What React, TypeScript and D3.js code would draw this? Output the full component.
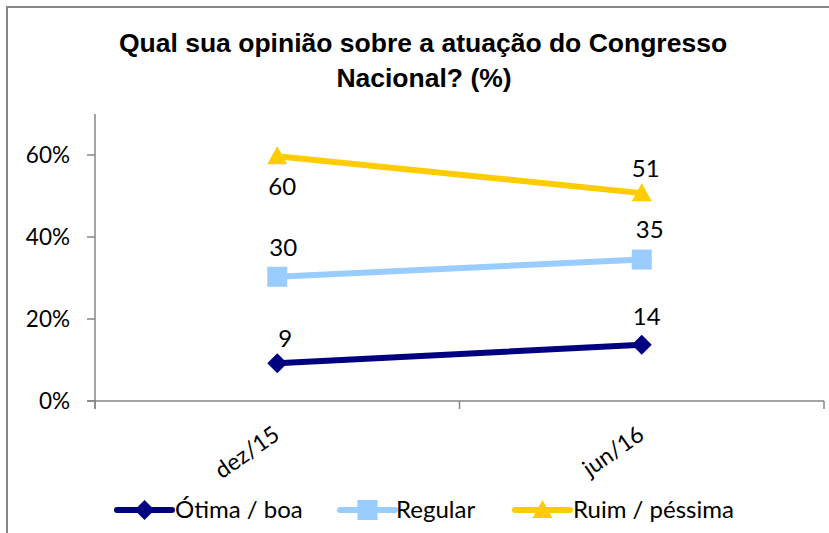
import React, { useEffect, useRef } from "react";
import * as d3 from "d3";

const categories = ["dez/15", "jun/16"];
const seriesNames = ["Ótima / boa", "Regular", "Ruim / péssima"];
const otimaValues = [9.2, 13.7];
const regularValues = [30.3, 34.5];
const ruimValues = [59.7, 50.7];
const yTicks = [0, 20, 40, 60];

const App = () => {
  const ref = useRef<SVGSVGElement>(null);

  useEffect(() => {
    if (!ref.current) return;
    const width = 829;
    const height = 533;
    const svg = d3.select(ref.current);
    svg.selectAll("*").remove();

    const left = 95, right = 824, top = 114, bottom = 401;
    const x = d3.scaleBand().domain(categories).range([left, right]);
    const y = d3.scaleLinear().domain([0, 70]).range([bottom, top]);
    const labelFont = "Lato, sans-serif";

    // chart border
    svg.append("rect")
      .attr("x", 7).attr("y", 7)
      .attr("width", width + 10).attr("height", height + 10)
      .attr("fill", "white").attr("stroke", "#868686").attr("stroke-width", 2);

    // title
    const title = svg.append("text")
      .attr("text-anchor", "middle")
      .attr("font-family", "Liberation Sans")
      .attr("font-weight", "bold").attr("font-size", 26.5).attr("fill", "#000");
    title.append("tspan").attr("x", 423).attr("y", 52).text("Qual sua opinião sobre a atuação do Congresso");
    title.append("tspan").attr("x", 424).attr("y", 87).text("Nacional? (%)");

    // axes
    const axisColor = "#868686";
    svg.append("line").attr("x1", left).attr("x2", left).attr("y1", top).attr("y2", bottom + 8)
      .attr("stroke", axisColor).attr("stroke-width", 1.5);
    svg.append("line").attr("x1", left - 8).attr("x2", right).attr("y1", bottom).attr("y2", bottom)
      .attr("stroke", axisColor).attr("stroke-width", 1.5);
    yTicks.forEach((t) => {
      svg.append("line").attr("x1", left - 8).attr("x2", left).attr("y1", y(t)).attr("y2", y(t))
        .attr("stroke", axisColor).attr("stroke-width", 1.5);
      svg.append("text").attr("x", 70).attr("y", y(t)).attr("dy", "0.35em")
        .attr("text-anchor", "end").style("font-family", labelFont).attr("font-size", 22.5)
        .attr("fill", "#000").text(`${t}%`);
    });
    const catEdges = [left, ...categories.map((c) => (x(c) as number) + x.bandwidth())];
    catEdges.forEach((e) => {
      svg.append("line").attr("x1", e).attr("x2", e).attr("y1", bottom).attr("y2", bottom + 8)
        .attr("stroke", axisColor).attr("stroke-width", 1.5);
    });
    categories.forEach((c) => {
      const cx = (x(c) as number) + x.bandwidth() / 2;
      svg.append("text")
        .attr("transform", `translate(${cx + 4},${bottom + 37}) rotate(-35)`)
        .attr("text-anchor", "end").style("font-family", labelFont).attr("font-size", 23)
        .attr("fill", "#000").text(c);
    });

    const cxOf = (c: string) => (x(c) as number) + x.bandwidth() / 2;
    const line = d3.line<number>().x((_, i) => cxOf(categories[i])).y((d) => y(d));

    const series = [
      { values: otimaValues, color: "#000080", marker: "diamond", labelOffsets: [[8, -25], [5, -28]] },
      { values: regularValues, color: "#99CCFF", marker: "square", labelOffsets: [[6, -29], [8, -30]] },
      { values: ruimValues, color: "#FFCC00", marker: "triangle", labelOffsets: [[5, 30], [4, -25]] },
    ];

    const markerPath = (type: string, s: number) => {
      if (type === "diamond") return `M0,${-s}L${s},0L0,${s}L${-s},0Z`;
      if (type === "square") return `M${-s},${-s}H${s}V${s}H${-s}Z`;
      return `M0,${-s}L${s},${s * 0.8}H${-s}Z`;
    };

    const drawMarker = (g: any, type: string, color: string, px: number, py: number) => {
      const size = 10;
      g.append("path").attr("d", markerPath(type, size))
        .attr("transform", `translate(${px},${py})`).attr("fill", color);
    };

    series.forEach((s) => {
      svg.append("path").attr("d", line(s.values) as string).attr("fill", "none")
        .attr("stroke", s.color).attr("stroke-width", 6).attr("stroke-linecap", "round");
      s.values.forEach((v, i) => {
        const px = cxOf(categories[i]);
        const py = y(v);
        drawMarker(svg, s.marker, s.color, px, py);
        svg.append("text").attr("x", px + s.labelOffsets[i][0]).attr("y", py + s.labelOffsets[i][1])
          .attr("dy", "0.35em").attr("text-anchor", "middle")
          .style("font-family", labelFont).attr("font-size", 24).attr("fill", "#000")
          .text(Math.round(v));
      });
    });

    // legend
    const legendItems = [
      { x0: 117, tx: 175 },
      { x0: 340, tx: 396 },
      { x0: 515, tx: 573 },
    ];
    const ly = 510;
    series.forEach((s, i) => {
      const it = legendItems[i];
      svg.append("line").attr("x1", it.x0).attr("x2", it.x0 + 55).attr("y1", ly).attr("y2", ly)
        .attr("stroke", s.color).attr("stroke-width", 6).attr("stroke-linecap", "round");
      drawMarker(svg, s.marker, s.color, it.x0 + 27.5, ly);
      svg.append("text").attr("x", it.tx).attr("y", ly).attr("dy", "0.35em")
        .style("font-family", labelFont).attr("font-size", 24).attr("fill", "#000")
        .text(seriesNames[i]);
    });
  }, []);

  return (
    <svg
      ref={ref}
      width={829}
      height={533}
      style={{ position: "absolute", left: 0, top: 0, background: "white" }}
    />
  );
};

export default App;
